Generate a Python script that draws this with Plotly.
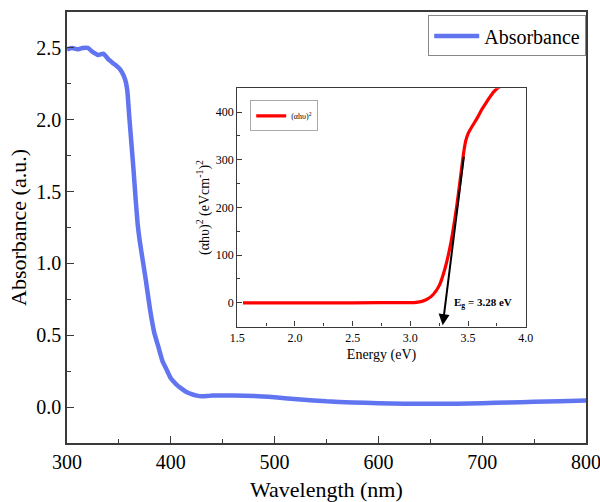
import plotly.graph_objects as go

# Main absorbance spectrum
wavelength = [300, 305, 310, 315, 320, 325, 330, 335, 340, 345, 350, 353, 356, 358,
              360, 362, 364, 366, 368, 370, 373, 376, 380, 384, 388, 392, 396, 400,
              405, 410, 415, 420, 425, 430, 435, 440, 460, 480, 500, 525, 550, 575,
              600, 625, 650, 675, 700, 725, 750, 775, 800]
absorbance = [2.49, 2.50, 2.49, 2.50, 2.50, 2.47, 2.45, 2.46, 2.42, 2.39, 2.36, 2.33, 2.28, 2.21,
              2.02, 1.84, 1.66, 1.46, 1.28, 1.16, 1.02, 0.88, 0.68, 0.52, 0.42, 0.32, 0.26, 0.20,
              0.16, 0.13, 0.105, 0.09, 0.08, 0.075, 0.077, 0.08, 0.08, 0.077, 0.068, 0.053, 0.04, 0.032,
              0.027, 0.024, 0.023, 0.024, 0.027, 0.032, 0.037, 0.041, 0.045]

# Tauc plot (inset)
energy = [1.55, 2.0, 2.5, 3.0, 3.05, 3.10, 3.15, 3.20, 3.25, 3.30, 3.35, 3.40, 3.43, 3.46,
          3.48, 3.50, 3.54, 3.58, 3.62, 3.66, 3.69, 3.72, 3.76, 3.80]
tauc = [0, 0, 0, 0.5, 1, 3, 8, 18, 36, 72, 125, 200, 255, 312,
        340, 355, 372, 388, 406, 421, 432, 442, 451, 458]

# Linear fit (tangent) end points and band gap
tangent_x = [3.465, 3.28]
tangent_y = [310, -47]
band_gap = 3.28

FONT = "'Liberation Serif', 'Times New Roman', Times, serif"
AXC = "#3a3a3a"

fig = go.Figure()
fig.add_trace(go.Scatter(x=wavelength, y=absorbance, mode="lines", name="Absorbance",
                         line=dict(color="rgb(98,117,240)", width=4.5, shape="spline", smoothing=0.5),
                         xaxis="x", yaxis="y", legend="legend"))
fig.add_trace(go.Scatter(x=energy, y=tauc, mode="lines", name="(αhυ)<sup>2</sup>",
                         line=dict(color="#ff0000", width=3.2, shape="spline", smoothing=0.5),
                         xaxis="x2", yaxis="y2", legend="legend2"))

fig.add_annotation(x=tangent_x[1], y=tangent_y[1], ax=tangent_x[0], ay=tangent_y[0],
                   xref="x2", yref="y2", axref="x2", ayref="y2", text="",
                   showarrow=True, arrowhead=2, arrowsize=1.1, arrowwidth=2, arrowcolor="black")
fig.add_annotation(x=3.63, y=0, xref="x2", yref="y2", showarrow=False,
                   text=f"<b>E<sub>g</sub> = {band_gap:.2f} eV</b>",
                   font=dict(family=FONT, size=11, color="black"))
# main x-axis title
fig.add_annotation(x=0.5, y=-0.107, xref="paper", yref="paper", showarrow=False,
                   xanchor="center", yanchor="middle", text="Wavelength (nm)",
                   font=dict(family=FONT, size=22, color="black"))

main_axis = dict(showline=True, linecolor=AXC, linewidth=1.6, mirror=True,
                 ticks="inside", ticklen=7, tickwidth=1.4, tickcolor=AXC,
                 showgrid=False, zeroline=False, automargin=False,
                 ticklabeloverflow="allow",
                 tickfont=dict(family=FONT, size=20, color="black"))
inset_axis = dict(showline=True, linecolor=AXC, linewidth=1.3, mirror=True,
                  ticks="inside", ticklen=5, tickwidth=1.1, tickcolor=AXC,
                  showgrid=False, zeroline=False, automargin=False,
                  ticklabeloverflow="allow",
                  tickfont=dict(family=FONT, size=12, color="black"))

fig.update_layout(
    width=600, height=502,
    margin=dict(l=67, r=14, t=12, b=59, autoexpand=False),
    paper_bgcolor="white", plot_bgcolor="white",
    font=dict(family=FONT, color="black"),
    xaxis=dict(**main_axis, range=[300, 800], tick0=300, dtick=100,
               minor=dict(dtick=50, ticks="inside", ticklen=4, tickcolor=AXC)),
    yaxis=dict(**main_axis, range=[-0.25, 2.75], tick0=0, dtick=0.5, tickformat=".1f",
               minor=dict(dtick=0.25, ticks="inside", ticklen=4, tickcolor=AXC),
               title=dict(text="Absorbance (a.u.)", font=dict(family=FONT, size=22), standoff=4)),
    xaxis2=dict(**inset_axis, domain=[0.328, 0.884], anchor="y2", range=[1.5, 4.0],
                tick0=1.5, dtick=0.5, tickformat=".1f",
                minor=dict(dtick=0.25, ticks="inside", ticklen=3, tickcolor=AXC),
                title=dict(text="Energy (eV)", font=dict(family=FONT, size=14), standoff=5)),
    yaxis2=dict(**inset_axis, domain=[0.270, 0.823], anchor="x2", range=[-50, 450],
                tick0=0, dtick=100,
                minor=dict(dtick=50, ticks="inside", ticklen=3, tickcolor=AXC),
                title=dict(text="(αhυ)<sup>2</sup> (eVcm<sup>-1</sup>)<sup>2</sup>",
                           font=dict(family=FONT, size=14), standoff=2)),
    legend=dict(x=0.696, y=0.992, xanchor="left", yanchor="top",
                bordercolor="#888", borderwidth=1, bgcolor="white",
                font=dict(family=FONT, size=20), itemwidth=45,
                tracegroupgap=0),
    legend2=dict(x=0.353, y=0.795, xanchor="left", yanchor="top",
                 bordercolor="#aaa", borderwidth=1, bgcolor="white",
                 font=dict(family=FONT, size=8), itemwidth=30),
    showlegend=True,
)

fig.write_html("out.html")
